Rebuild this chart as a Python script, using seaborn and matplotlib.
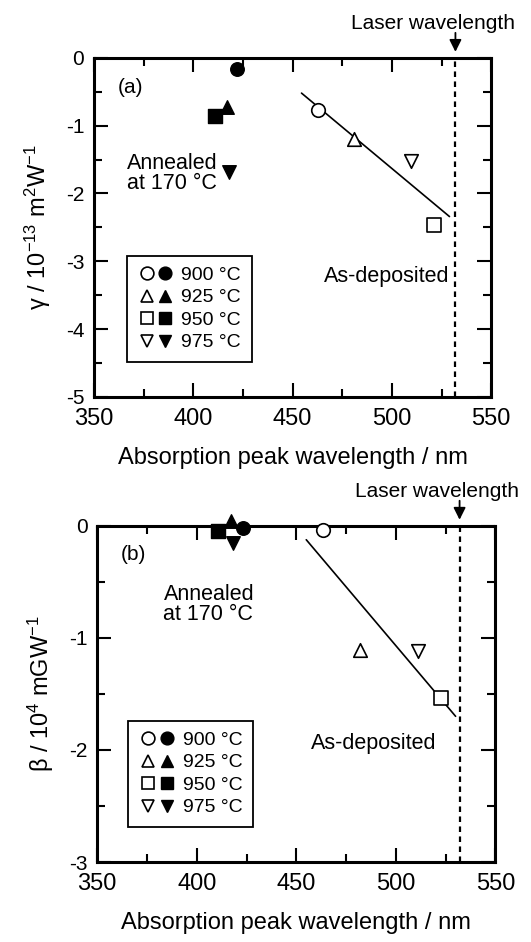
import matplotlib
matplotlib.use("Agg")
import matplotlib.pyplot as plt
import seaborn as sns
from matplotlib.lines import Line2D
from matplotlib.legend_handler import HandlerTuple
from matplotlib.ticker import MultipleLocator

# ---------------- data ----------------
temps = ["900 °C", "925 °C", "950 °C", "975 °C"]
markers = ["o", "^", "s", "v"]

# panel (a): gamma / 1e-13 m^2 W^-1
a_asdep_x = [462.9, 480.7, 521.4, 509.6]
a_asdep_y = [-0.77, -1.19, -2.46, -1.52]
a_ann_x = [422.0, 417.0, 411.0, 418.0]
a_ann_y = [-0.17, -0.73, -0.86, -1.69]
a_fit_x = [454.5, 529.0]
a_fit_y = [-0.52, -2.34]

# panel (b): beta / 1e4 m GW^-1
b_asdep_x = [463.5, 482.0, 522.7, 511.0]
b_asdep_y = [-0.04, -1.11, -1.54, -1.12]
b_ann_x = [423.0, 417.0, 410.6, 418.0]
b_ann_y = [-0.02, 0.04, -0.05, -0.15]
b_fit_x = [455.0, 530.0]
b_fit_y = [-0.125, -1.70]

laser_nm = 532
x_ticks = [350, 400, 450, 500, 550]

# ---------------- style ----------------
sns.set_style("ticks")
plt.rcParams["font.family"] = ["Liberation Sans", "DejaVu Sans"]
plt.rcParams["mathtext.fontset"] = "custom"
plt.rcParams["mathtext.rm"] = "Liberation Sans"
plt.rcParams["mathtext.it"] = "Liberation Sans:italic"
plt.rcParams["axes.unicode_minus"] = False
for key in ["text.color", "axes.labelcolor", "xtick.color", "ytick.color",
            "xtick.labelcolor", "ytick.labelcolor", "axes.edgecolor"]:
    plt.rcParams[key] = "black"

fig = plt.figure(figsize=(5.31, 9.42), dpi=100)
ax_a = fig.add_axes([0.177, 0.5786, 0.748, 0.360])
ax_b = fig.add_axes([0.183, 0.0849, 0.750, 0.357])

MS = 95


def panel(ax, asx, asy, anx, any_, fx, fy, ylim, ylabel, tag, tag_pos,
          ann_pos, asdep_pos, leg_anchor):
    # fit line
    sns.lineplot(x=fx, y=fy, color="black", lw=1.2, ax=ax, zorder=3)
    # laser wavelength dashed line
    ax.axvline(laser_nm, color="black", ls=(0, (2.5, 2.0)), lw=1.6, zorder=2)
    # points
    for i, m in enumerate(markers):
        sns.scatterplot(x=[asx[i]], y=[asy[i]], marker=m, s=MS, color="white",
                        edgecolor="black", linewidth=1.2, ax=ax, zorder=5,
                        clip_on=False)
        sns.scatterplot(x=[anx[i]], y=[any_[i]], marker=m, s=MS, color="black",
                        edgecolor="black", linewidth=1.0, ax=ax, zorder=6,
                        clip_on=False)
    ax.set_xlim(350, 550)
    ax.set_ylim(*ylim)
    ax.set_xticks(x_ticks)
    ax.xaxis.set_minor_locator(MultipleLocator(25))
    ax.yaxis.set_major_locator(MultipleLocator(1))
    ax.yaxis.set_minor_locator(MultipleLocator(0.5))
    ax.tick_params(which="both", direction="in", top=True, right=True,
                   width=1.5, color="black", labelcolor="black")
    ax.tick_params(which="major", length=10)
    ax.tick_params(which="minor", length=5.5)
    ax.tick_params(axis="x", labelsize=17, pad=8)
    ax.tick_params(axis="y", labelsize=15, pad=7)
    for sp in ax.spines.values():
        sp.set_linewidth(2.2)
        sp.set_color("black")
    ax.set_xlabel("Absorption peak wavelength / nm", fontsize=17, labelpad=12)
    ax.set_ylabel(ylabel, fontsize=17, labelpad=9)

    ax.text(tag_pos[0], tag_pos[1], tag, fontsize=15, ha="left", va="center")
    ax.text(ann_pos[0], ann_pos[1], "Annealed\nat 170 °C", fontsize=15.5,
            ha="left", va="center", linespacing=0.95)
    ax.text(asdep_pos[0], asdep_pos[1], "As-deposited", fontsize=15.5,
            ha="left", va="center")

    # laser wavelength arrow + text
    ax.annotate("", xy=(laser_nm, 1), xycoords=("data", "axes fraction"),
                xytext=(0, 18), textcoords="offset points",
                arrowprops=dict(arrowstyle="-|>", color="black", lw=1.3,
                                shrinkA=0, shrinkB=4.3, mutation_scale=18),
                annotation_clip=False)
    ax.annotate("Laser wavelength", xy=(laser_nm, 1),
                xycoords=("data", "axes fraction"), xytext=(-16.5, 21),
                textcoords="offset points", ha="center", va="baseline",
                fontsize=15, annotation_clip=False)

    # legend
    handles = []
    for m in markers:
        h_open = Line2D([], [], ls="none", marker=m, markersize=9.2,
                        markerfacecolor="white", markeredgecolor="black",
                        markeredgewidth=1.2)
        h_fill = Line2D([], [], ls="none", marker=m, markersize=9.2,
                        markerfacecolor="black", markeredgecolor="black")
        handles.append((h_open, h_fill))
    leg = ax.legend(handles, temps, loc="lower left",
                    bbox_to_anchor=leg_anchor, borderaxespad=0,
                    handler_map={tuple: HandlerTuple(ndivide=None, pad=0)},
                    fontsize=14, frameon=True, fancybox=False,
                    edgecolor="black", framealpha=1, handlelength=1.9,
                    handletextpad=0.35, borderpad=0.55, labelspacing=0.25,
                    labelcolor="black")
    leg.get_frame().set_linewidth(1.3)


panel(ax_a, a_asdep_x, a_asdep_y, a_ann_x, a_ann_y, a_fit_x, a_fit_y,
      (-5, 0), "γ / " + r"$\mathrm{10^{-13}\ m^{2}W^{-1}}$", "(a)",
      (362, -0.43), (366.7, -1.70), (465.7, -3.22), (0.083, 0.103))
panel(ax_b, b_asdep_x, b_asdep_y, b_ann_x, b_ann_y, b_fit_x, b_fit_y,
      (-3, 0), "β / " + r"$\mathrm{10^{4}\ mGW^{-1}}$", "(b)",
      (361.6, -0.26), (383.3, -0.70), (457.6, -1.94), (0.078, 0.104))

fig.savefig("out.png", dpi=100)
